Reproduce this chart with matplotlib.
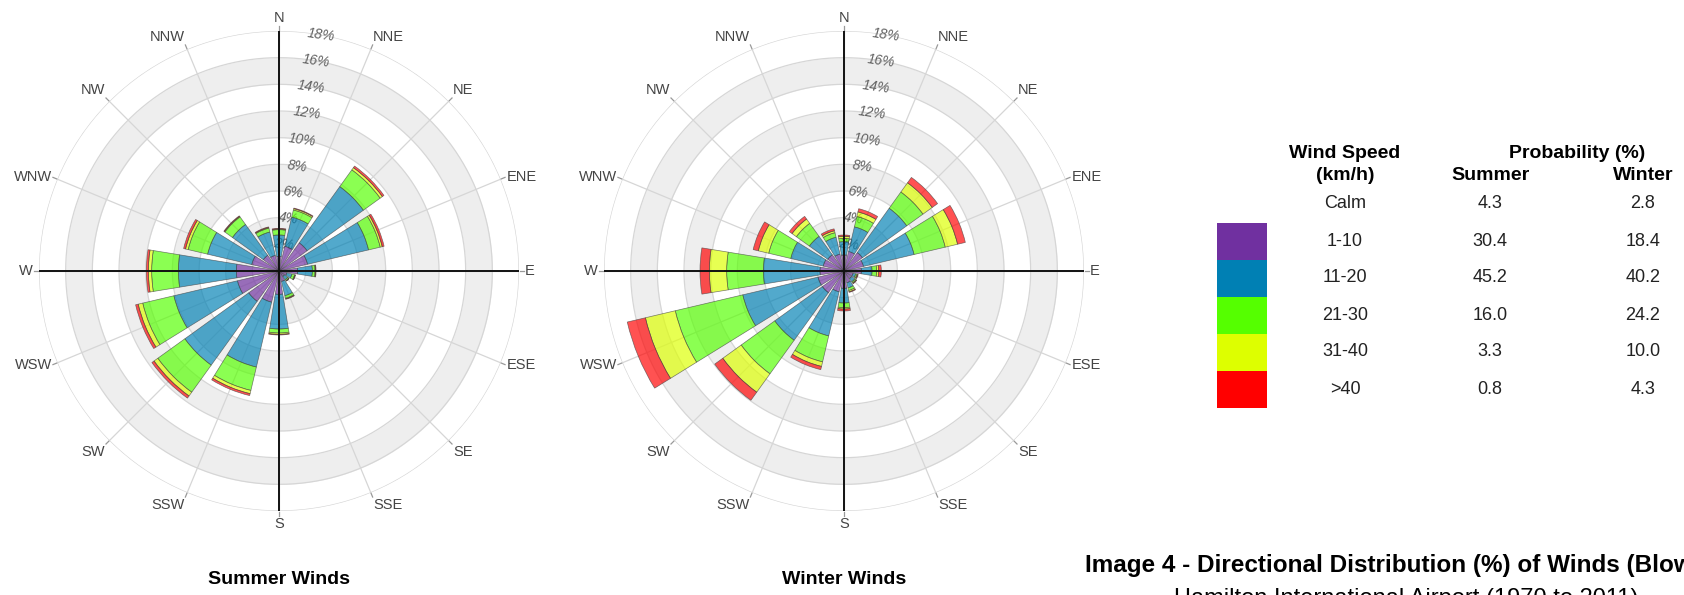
import numpy as np
import matplotlib
matplotlib.use("Agg")
import matplotlib.pyplot as plt
from matplotlib.patches import Rectangle

plt.rcParams['font.family'] = ['Liberation Sans', 'DejaVu Sans']

W, H = 1684, 595

directions = ['N', 'NNE', 'NE', 'ENE', 'E', 'ESE', 'SE', 'SSE',
              'S', 'SSW', 'SW', 'WSW', 'W', 'WNW', 'NW', 'NNW']
class_colors = ['#7030A0', '#0080B4', '#55FF00', '#DDFF00', '#FF0000']

# cumulative radius (%) reached by each speed class, per direction
summer_1_10 = [1.1, 1.9, 2.6, 2.2, 1.4, 0.6, 0.5, 0.8, 1.75, 2.4, 2.8, 3.2, 3.2, 2.1, 1.45, 1.2]
summer_11_20 = [2.7, 4.15, 7.8, 6.9, 2.5, 1.0, 0.8, 1.9, 4.35, 7.4, 8.7, 8.1, 7.55, 5.5, 4.3, 3.0]
summer_21_30 = [3.1, 4.7, 9.35, 7.8, 2.7, 1.2, 0.9, 2.1, 4.65, 9.2, 11.2, 10.5, 9.55, 7.0, 5.0, 3.3]
summer_31_40 = [3.15, 4.8, 9.55, 7.95, 2.75, 1.25, 0.92, 2.15, 4.75, 9.45, 11.55, 10.85, 9.8, 7.2, 5.05, 3.35]
summer_40 = [3.2, 4.85, 9.7, 8.1, 2.78, 1.27, 0.94, 2.18, 4.8, 9.6, 11.75, 11.05, 9.95, 7.35, 5.1, 3.4]

winter_1_10 = [1.2, 1.5, 1.7, 1.5, 1.3, 0.7, 0.7, 0.9, 1.3, 1.6, 2.0, 2.0, 1.8, 1.6, 1.5, 1.3]
winter_11_20 = [2.2, 3.4, 5.8, 5.4, 2.1, 0.9, 1.0, 1.3, 2.4, 5.0, 6.4, 7.8, 6.05, 4.1, 3.2, 2.6]
winter_21_30 = [2.45, 4.2, 7.3, 7.8, 2.45, 1.0, 1.1, 1.5, 2.75, 7.0, 9.5, 13.0, 8.8, 5.8, 4.4, 2.95]
winter_31_40 = [2.6, 4.55, 8.15, 8.75, 2.6, 1.05, 1.15, 1.6, 2.85, 7.35, 11.2, 15.3, 10.1, 6.6, 4.8, 3.1]
winter_40 = [2.7, 4.8, 8.65, 9.35, 2.8, 1.1, 1.18, 1.65, 3.0, 7.6, 11.95, 16.7, 10.8, 7.0, 5.05, 3.25]

ring_values = [2, 4, 6, 8, 10, 12, 14, 16, 18]

legend_speeds = ['Calm', '1-10', '11-20', '21-30', '31-40', '>40']
legend_summer = ['4.3', '30.4', '45.2', '16.0', '3.3', '0.8']
legend_winter = ['2.8', '18.4', '40.2', '24.2', '10.0', '4.3']


def fx(x):
    return x / W


def fy(y):
    return 1 - y / H


def rose(ax, layers):
    ax.set_theta_zero_location('N')
    ax.set_theta_direction(-1)
    ax.set_ylim(0, 18)
    ax.set_axis_off()
    theta = np.linspace(0, 2 * np.pi, 721)
    angles = np.radians(np.arange(16) * 22.5)

    # shaded bands and rings
    for r0 in (2, 6, 10, 14):
        ax.fill_between(theta, r0, r0 + 2, color='#eeeeee', lw=0, zorder=0)
    for r in ring_values:
        ax.plot(theta, np.full_like(theta, r), color='#d6d6d6', lw=0.9, zorder=1)
    for a in angles:
        ax.plot([a, a], [0, 18], color='#d6d6d6', lw=0.9, zorder=1)
        ax.plot([a, a], [18.05, 18.35], color='#999999', lw=0.9, zorder=1, clip_on=False)

    for v in ring_values:
        ax.text(np.radians(10), v, '%d%%' % v, fontsize=10, style='italic',
                color='#606060', ha='center', va='center', rotation=-8, zorder=2)

    # stacked bars
    bottom = np.zeros(16)
    for col, cum in zip(class_colors, layers):
        cum = np.array(cum)
        ax.bar(angles, cum - bottom, width=np.radians(18.5), bottom=bottom,
               color=col, alpha=0.68, edgecolor='#404040', linewidth=0.5, zorder=3)
        bottom = cum

    # black axes
    for a in (0, np.pi / 2, np.pi, 3 * np.pi / 2):
        ax.plot([a, a], [0, 18], color='#111111', lw=1.4, zorder=4)

    for a, name in zip(angles, directions):
        x, y = np.sin(a), np.cos(a)
        ha = 'left' if x > 0.3 else ('right' if x < -0.3 else 'center')
        va = 'bottom' if y > 0.5 else ('top' if y < -0.5 else 'center')
        ax.text(a, 18.45, name, fontsize=10.5, color='#444444', ha=ha, va=va,
                clip_on=False)


fig = plt.figure(figsize=(W / 100, H / 100), dpi=100)

R = 240
for cx, layers, title in [(279, [summer_1_10, summer_11_20, summer_21_30, summer_31_40, summer_40], 'Summer Winds'),
                          (844, [winter_1_10, winter_11_20, winter_21_30, winter_31_40, winter_40], 'Winter Winds')]:
    ax = fig.add_axes([fx(cx - R), fy(271 + R), 2 * R / W, 2 * R / H], projection='polar')
    rose(ax, layers)
    fig.text(fx(cx), fy(579), title, fontsize=14, fontweight='bold', ha='center', va='center')

# legend table
fig.text(fx(1345), fy(153), 'Wind Speed', fontsize=14, fontweight='bold', ha='center', va='center')
fig.text(fx(1345), fy(175), '(km/h)', fontsize=14, fontweight='bold', ha='center', va='center')
fig.text(fx(1577), fy(153), 'Probability (%)', fontsize=14, fontweight='bold', ha='center', va='center')
fig.text(fx(1490), fy(175), 'Summer', fontsize=14, fontweight='bold', ha='center', va='center')
fig.text(fx(1643), fy(175), 'Winter', fontsize=14, fontweight='bold', ha='center', va='center')

row_y = [204, 241, 278, 315, 352, 389]
for i, (sp, s, w) in enumerate(zip(legend_speeds, legend_summer, legend_winter)):
    fig.text(fx(1345), fy(row_y[i]), sp, fontsize=13, ha='center', va='center', color='#222222')
    fig.text(fx(1490), fy(row_y[i]), s, fontsize=13, ha='center', va='center', color='#222222')
    fig.text(fx(1643), fy(row_y[i]), w, fontsize=13, ha='center', va='center', color='#222222')
    if i > 0:
        col = class_colors[i - 1]
        fig.add_artist(Rectangle((fx(1217), fy(row_y[i] + 18.5)), 50 / W, 37 / H,
                                 transform=fig.transFigure, color=col, lw=0))

# caption runs past the right and bottom edges, as in the source image
fig.text(fx(1085), fy(572), 'Image 4 - Directional Distribution (%) of Winds (Blowing From)',
         fontsize=17.5, fontweight='bold', ha='left', va='baseline')
fig.text(fx(1406), fy(605), 'Hamilton International Airport (1970 to 2011)',
         fontsize=17, ha='center', va='baseline')

fig.savefig('out.png', dpi=100)
